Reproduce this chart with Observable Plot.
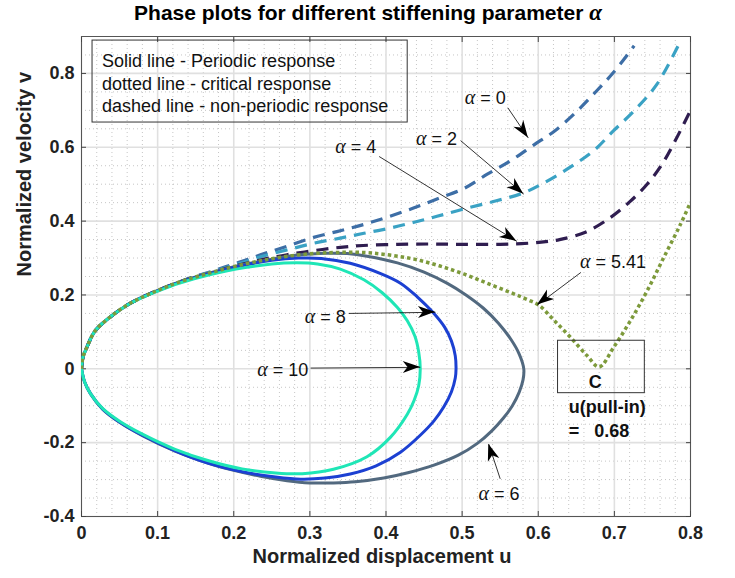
<!DOCTYPE html>
<html><head><meta charset="utf-8">
<script src="https://cdn.jsdelivr.net/npm/d3@7"></script>
<script src="https://cdn.jsdelivr.net/npm/@observablehq/plot@0.6"></script>
<style>
body{margin:0;background:#fff;font-family:"Liberation Sans",Arial,sans-serif;}
#wrap{position:relative;width:735px;height:578px;}
#title{position:absolute;left:0;top:0px;width:736px;text-align:center;font-weight:bold;font-size:21px;color:#000;}
#title .a{font-family:"Liberation Serif",serif;font-style:italic;font-size:23px;}
</style></head><body>
<div id="wrap"><div id="title">Phase plots for different stiffening parameter <span class="a">α</span></div></div>
<script>
// ---- data (u = normalized displacement, v = normalized velocity) ----
const alpha0 = [[0,0],[0.002,0.032],[0.007,0.058],[0.018,0.103],[0.04,0.144],[0.062,0.175],[0.084,0.198],[0.102,0.214],[0.127,0.234],[0.15,0.251],[0.171,0.264],[0.19,0.277],[0.215,0.294],[0.24,0.312],[0.27,0.332],[0.305,0.356],[0.34,0.374],[0.371,0.391],[0.405,0.413],[0.437,0.436],[0.467,0.46],[0.502,0.488],[0.533,0.527],[0.564,0.564],[0.594,0.606],[0.622,0.645],[0.649,0.694],[0.675,0.749],[0.699,0.803],[0.726,0.875]];
const alpha2 = [[0,0],[0.002,0.032],[0.007,0.058],[0.018,0.103],[0.04,0.144],[0.062,0.175],[0.084,0.198],[0.102,0.214],[0.127,0.234],[0.15,0.25],[0.171,0.262],[0.19,0.274],[0.215,0.29],[0.24,0.306],[0.27,0.322],[0.305,0.34],[0.34,0.354],[0.371,0.367],[0.405,0.381],[0.437,0.397],[0.467,0.413],[0.502,0.433],[0.545,0.455],[0.58,0.476],[0.607,0.503],[0.642,0.546],[0.673,0.591],[0.699,0.645],[0.726,0.699],[0.756,0.771],[0.785,0.88]];
const alpha4 = [[0,0],[0.002,0.032],[0.007,0.058],[0.018,0.103],[0.04,0.144],[0.062,0.175],[0.084,0.198],[0.102,0.214],[0.127,0.234],[0.15,0.249],[0.171,0.26],[0.19,0.272],[0.215,0.285],[0.24,0.297],[0.27,0.309],[0.305,0.32],[0.34,0.329],[0.37,0.334],[0.415,0.337],[0.46,0.338],[0.502,0.337],[0.55,0.337],[0.578,0.339],[0.604,0.343],[0.628,0.35],[0.662,0.37],[0.695,0.41],[0.72,0.452],[0.743,0.5],[0.762,0.552],[0.78,0.618],[0.8,0.7]];
const alpha541 = [[0,0],[0.002,0.032],[0.007,0.058],[0.018,0.103],[0.04,0.144],[0.062,0.175],[0.084,0.198],[0.102,0.214],[0.127,0.234],[0.171,0.261],[0.215,0.284],[0.25,0.298],[0.283,0.308],[0.32,0.314],[0.371,0.315],[0.405,0.308],[0.437,0.297],[0.47,0.279],[0.502,0.257],[0.535,0.23],[0.568,0.203],[0.585,0.188],[0.601,0.172],[0.62,0.133],[0.642,0.086],[0.664,0.036],[0.68,0.005],[0.699,0.058],[0.721,0.13],[0.743,0.211],[0.765,0.302],[0.787,0.392],[0.8,0.451]];
const alpha6 = [[0,0],[0.002,0.032],[0.007,0.058],[0.018,0.103],[0.04,0.144],[0.062,0.175],[0.084,0.198],[0.102,0.214],[0.127,0.234],[0.171,0.261],[0.215,0.283],[0.25,0.297],[0.283,0.308],[0.32,0.313],[0.349,0.312],[0.375,0.305],[0.415,0.287],[0.45,0.262],[0.48,0.232],[0.505,0.2],[0.528,0.164],[0.548,0.123],[0.564,0.08],[0.575,0.04],[0.581,0],[0.58,-0.03],[0.575,-0.063],[0.566,-0.1],[0.554,-0.134],[0.539,-0.168],[0.52,-0.202],[0.495,-0.234],[0.463,-0.261],[0.43,-0.281],[0.397,-0.296],[0.36,-0.306],[0.331,-0.309],[0.3,-0.309],[0.27,-0.303],[0.235,-0.291],[0.2,-0.275],[0.167,-0.256],[0.123,-0.223],[0.08,-0.181],[0.05,-0.145],[0.028,-0.11],[0.012,-0.068],[0.004,-0.035],[0,0]];
const alpha8 = [[0,0],[0.002,0.032],[0.007,0.058],[0.018,0.103],[0.04,0.144],[0.062,0.175],[0.084,0.198],[0.102,0.213],[0.127,0.233],[0.171,0.259],[0.215,0.281],[0.25,0.294],[0.285,0.3],[0.315,0.299],[0.353,0.286],[0.393,0.258],[0.419,0.232],[0.441,0.195],[0.463,0.15],[0.477,0.113],[0.486,0.075],[0.491,0.035],[0.492,0],[0.491,-0.025],[0.486,-0.062],[0.476,-0.103],[0.463,-0.141],[0.445,-0.18],[0.419,-0.226],[0.387,-0.263],[0.353,-0.285],[0.32,-0.296],[0.288,-0.299],[0.255,-0.293],[0.211,-0.279],[0.167,-0.256],[0.123,-0.222],[0.08,-0.18],[0.05,-0.144],[0.028,-0.109],[0.012,-0.068],[0.004,-0.035],[0,0]];
const alpha10 = [[0,0],[0.002,0.032],[0.007,0.058],[0.018,0.103],[0.04,0.144],[0.062,0.175],[0.084,0.197],[0.102,0.212],[0.127,0.231],[0.171,0.256],[0.215,0.274],[0.25,0.284],[0.283,0.287],[0.31,0.284],[0.34,0.27],[0.371,0.241],[0.395,0.206],[0.415,0.166],[0.428,0.13],[0.438,0.088],[0.443,0.045],[0.445,0],[0.443,-0.045],[0.437,-0.085],[0.428,-0.123],[0.406,-0.185],[0.375,-0.238],[0.331,-0.272],[0.29,-0.284],[0.255,-0.282],[0.211,-0.271],[0.167,-0.249],[0.123,-0.218],[0.08,-0.177],[0.05,-0.142],[0.028,-0.108],[0.012,-0.068],[0.004,-0.035],[0,0]];

const xTicks = [0,0.1,0.2,0.3,0.4,0.5,0.6,0.7,0.8];
const yTicks = [-0.4,-0.2,0,0.2,0.4,0.6,0.8];

// annotations: label, text position, arrow tail, arrow tip
const annLabels = ["0","2","4","5.41","6","8","10"];
const annTextU = [0.531,0.467,0.361,0.699,0.549,0.321,0.265];
const annTextV = [0.734,0.623,0.600,0.288,-0.339,0.141,-0.004];
const annTailU = [0.560,0.498,0.391,0.656,0.550,0.351,0.301];
const annTailV = [0.707,0.618,0.575,0.261,-0.298,0.150,0.002];
const annTipU  = [0.587,0.581,0.572,0.599,0.535,0.465,0.445];
const annTipV  = [0.625,0.473,0.345,0.173,-0.204,0.153,0.004];

const legendLines = ["Solid line - Periodic response","dotted line - critical response","dashed line - non-periodic response"];
const pullInBox = {u1:0.626,u2:0.740,v1:-0.066,v2:0.076};
const pullInLabel = "C";
const pullInText = ["u(pull-in)","=   0.68"];

// ---- build ----
const series = [
  {name:"0", pts:alpha0, color:"#3d6ea6", dash:"12,8", w:3.2},
  {name:"2", pts:alpha2, color:"#3aa2c4", dash:"12,8", w:3.2},
  {name:"4", pts:alpha4, color:"#2f1d50", dash:"12,8", w:3.2},
  {name:"6", pts:alpha6, color:"#52697f", dash:null, w:3},
  {name:"8", pts:alpha8, color:"#1c40d2", dash:null, w:3},
  {name:"10", pts:alpha10, color:"#1fe6b6", dash:null, w:3},
  {name:"5.41", pts:alpha541, color:"#7d9a3b", dash:"3.5,3", w:3.5}
];
const xMinor = d3.range(0,41).map(i=>i*0.02).filter(d=>Math.abs(d*10-Math.round(d*10))>1e-6);
const yMinor = d3.range(0,27).map(i=>-0.4+i*0.05).filter(d=>Math.abs(d*5-Math.round(d*5))>1e-6);
const ann = annLabels.map((l,i)=>({l, tu:annTextU[i], tv:annTextV[i], au:annTailU[i], av:annTailV[i], bu:annTipU[i], bv:annTipV[i]}));
const fmt = d => String(+d.toFixed(1));
const FONT = "Liberation Sans, Arial, sans-serif";

function annLayer(index, scales) {
  const g = d3.create("svg:g");
  const L = 17, Wd = 12;
  for (const a of ann) {
    const x1 = scales.x(a.au), y1 = scales.y(a.av), x2 = scales.x(a.bu), y2 = scales.y(a.bv);
    const ang = Math.atan2(y2-y1, x2-x1)*180/Math.PI;
    g.append("path").attr("d", `M0,0L${-L},${Wd/2}L${-0.72*L},0L${-L},${-Wd/2}Z`)
      .attr("transform", `translate(${x2},${y2}) rotate(${ang})`).attr("fill","#000");
    const t = g.append("text").attr("x", scales.x(a.tu)).attr("y", scales.y(a.tv)).attr("dy","0.36em")
      .attr("text-anchor","middle").attr("font-family",FONT).attr("font-size",18).attr("fill","#111");
    t.append("tspan").attr("font-family","Liberation Serif, serif").attr("font-style","italic").attr("font-size",20).text("α");
    t.append("tspan").text(" = " + a.l);
  }
  return g.node();
}

const marks = [
  Plot.ruleX(xMinor, {stroke:"#b8b8b8", strokeWidth:0.8, strokeDasharray:"1,3"}),
  Plot.ruleY(yMinor, {stroke:"#b8b8b8", strokeWidth:0.8, strokeDasharray:"1,3"}),
  Plot.ruleX(xTicks, {stroke:"#e0e0e0", strokeWidth:1.6}),
  Plot.ruleY(yTicks, {stroke:"#e0e0e0", strokeWidth:1.6}),
  Plot.frame({stroke:"#555", strokeWidth:1}),
  Plot.axisX(xTicks, {anchor:"bottom", tickSize:-5, tickPadding:15, tickFormat:fmt, fontSize:18, fontWeight:"bold", fill:"#222", stroke:"#444", label:null, fontFamily:FONT}),
  Plot.axisX(xTicks, {anchor:"top", tickSize:-5, tickFormat:()=>"", stroke:"#444", label:null}),
  Plot.axisY(yTicks, {anchor:"left", tickSize:-5, tickPadding:12, tickFormat:fmt, fontSize:18, fontWeight:"bold", fill:"#222", stroke:"#444", label:null, fontFamily:FONT}),
  Plot.axisY(yTicks, {anchor:"right", tickSize:-5, tickFormat:()=>"", stroke:"#444", label:null}),
];
for (const s of series) {
  marks.push(Plot.line(s.pts, {x:d=>d[0], y:d=>d[1], stroke:s.color, strokeWidth:s.w, strokeDasharray:s.dash, strokeLinecap: s.dash ? "butt" : "round", curve:"catmull-rom", clip:true}));
}
marks.push(
  Plot.rect([pullInBox], {x1:"u1", x2:"u2", y1:"v1", y2:"v2", fill:"none", stroke:"#333", strokeWidth:1}),
  Plot.text([pullInLabel], {x:[0.675], y:[-0.037], text:d=>d, fontSize:18, fontWeight:"bold", fill:"#111", fontFamily:FONT}),
  Plot.text(pullInText, {x:[0.64,0.64], y:[-0.105,-0.168], text:d=>d, textAnchor:"start", fontSize:18, fontWeight:"bold", fill:"#111", fontFamily:FONT}),
  Plot.rect([{u1:0.0145,u2:0.4285,v1:0.667,v2:0.889}], {x1:"u1", x2:"u2", y1:"v1", y2:"v2", fill:"none", stroke:"#333", strokeWidth:1}),
  Plot.text(legendLines, {x:[0.027,0.027,0.027], y:[0.834,0.772,0.71], text:d=>d, textAnchor:"start", fontSize:18, fill:"#111", fontFamily:FONT}),
  Plot.link(ann, {x1:"au", y1:"av", x2:"bu", y2:"bv", stroke:"#000", strokeWidth:0.8}),
  annLayer,
  Plot.text(["Normalized displacement u"], {frameAnchor:"bottom", dy:46, dx:-4, text:d=>d, fontSize:20, fontWeight:"bold", fill:"#222", fontFamily:FONT}),
  Plot.text(["Normalized velocity v"], {frameAnchor:"left", dx:-57, rotate:-90, text:d=>d, fontSize:20, fontWeight:"bold", fill:"#222", fontFamily:FONT})
);

const chart = Plot.plot({
  width:735, height:578, marginLeft:81, marginRight:45, marginTop:36, marginBottom:62,
  x:{domain:[0,0.8]}, y:{domain:[-0.4,0.9]},
  style:{fontFamily:FONT, background:"#fff", overflow:"visible"},
  marks
});
document.getElementById("wrap").appendChild(chart);
</script>
</body></html>
